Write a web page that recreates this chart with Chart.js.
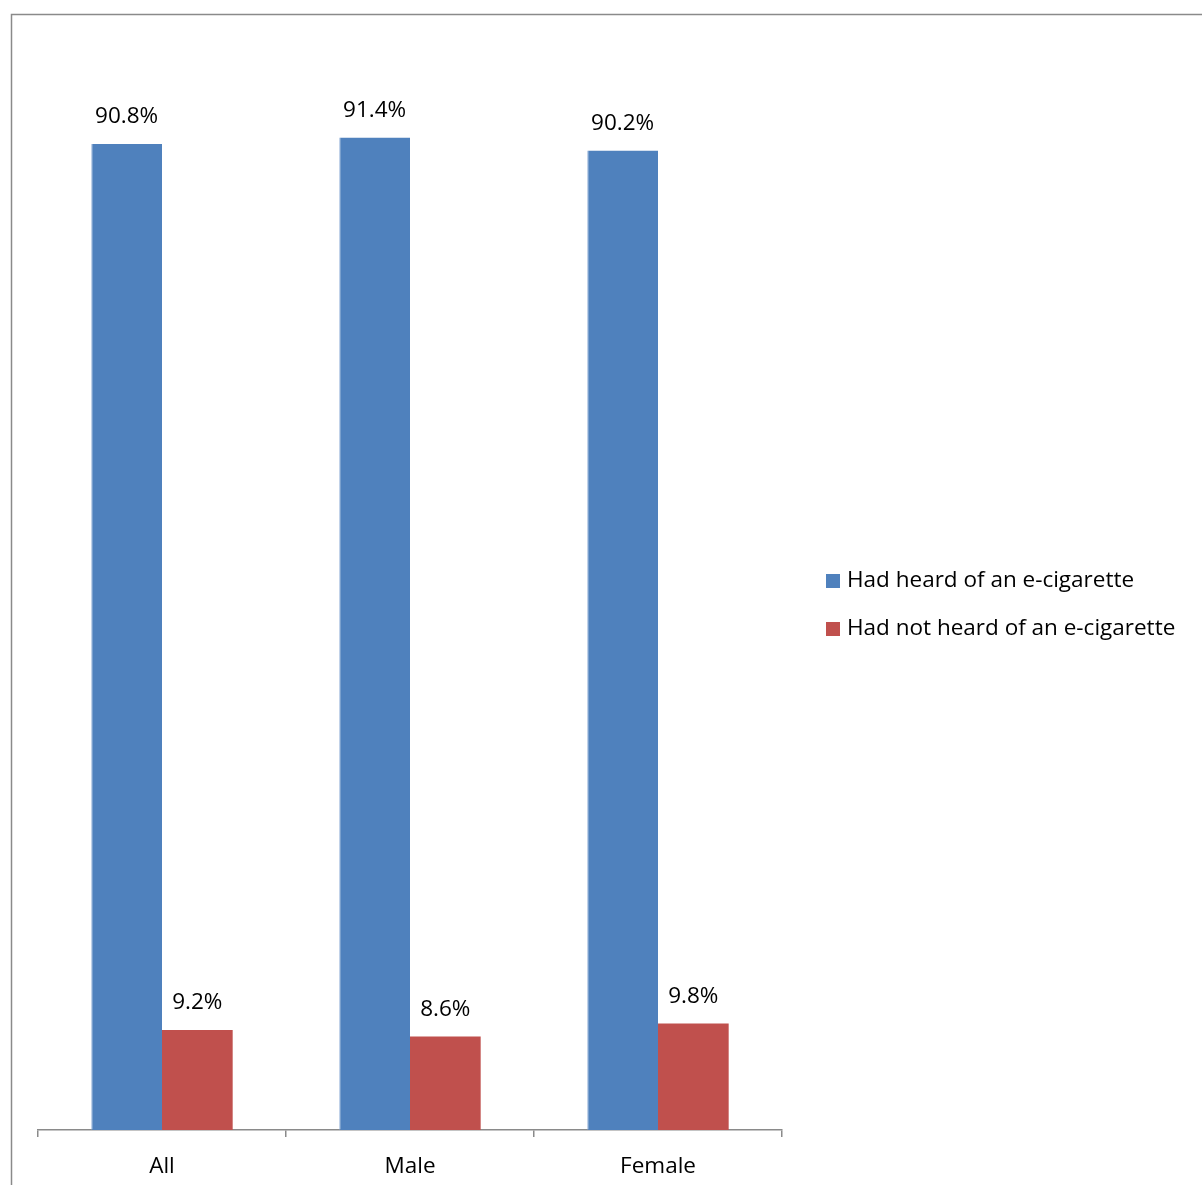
<!DOCTYPE html>
<html>
<head>
<meta charset="utf-8">
<script src="https://cdn.jsdelivr.net/npm/chart.js@4.4.0/dist/chart.umd.min.js"></script>
<style>
  html, body { margin: 0; padding: 0; background: #fff; }
  #wrap { width: 1202px; height: 1185px; }
</style>
</head>
<body>
<div id="wrap"><canvas id="barCanvas"></canvas></div>
<script>
// data
var categories = ["All", "Male", "Female"];
var heardValues = [90.8, 91.4, 90.2];
var notHeardValues = [9.2, 8.6, 9.8];
var seriesNames = ["Had heard of an e-cigarette", "Had not heard of an e-cigarette"];

var fontName = "'Open Sans', 'Noto Sans', sans-serif";

// outer frame + value labels + legend
var drawExtras = {
  id: 'drawExtras',
  afterDraw: function(chart) {
    var ctx = chart.ctx;
    ctx.save();

    // frame
    ctx.strokeStyle = '#8a8a8a';
    ctx.lineWidth = 1.5;
    ctx.strokeRect(11.5, 14.5, 1400, 1400);

    // value labels
    ctx.fillStyle = '#000';
    ctx.font = '22.5px ' + fontName;
    ctx.textAlign = 'center';
    ctx.textBaseline = 'middle';
    chart.data.datasets.forEach(function(ds, i) {
      var meta = chart.getDatasetMeta(i);
      meta.data.forEach(function(bar, j) {
        ctx.fillText(ds.data[j].toFixed(1) + '%', bar.x, bar.y - 27);
      });
    });

    // legend
    ctx.textAlign = 'left';
    ctx.font = '22.5px ' + fontName;
    chart.data.datasets.forEach(function(ds, i) {
      var y = 581 + i * 48;
      ctx.fillStyle = ds.backgroundColor;
      ctx.fillRect(826, y - 7, 14, 14);
      ctx.fillStyle = '#000';
      ctx.fillText(ds.label, 847, y);
    });
    ctx.restore();
  }
};

var ctx = document.getElementById('barCanvas').getContext('2d');
var chart = new Chart(ctx, {
  type: 'bar',
  data: {
    labels: categories,
    datasets: [
      {
        label: seriesNames[0],
        data: heardValues,
        backgroundColor: '#4f81bd',
        borderColor: '#7b9fd0',
        borderWidth: { left: 1, right: 0, top: 0, bottom: 0 }
      },
      {
        label: seriesNames[1],
        data: notHeardValues,
        backgroundColor: '#c0504d',
        borderWidth: 0
      }
    ]
  },
  options: {
    responsive: true,
    maintainAspectRatio: false,
    animation: false,
    layout: {
      padding: { left: 38, right: 420, top: 44, bottom: 0 }
    },
    plugins: {
      legend: { display: false },
      tooltip: { enabled: false }
    },
    datasets: {
      bar: { categoryPercentage: 0.57, barPercentage: 1.0 }
    },
    scales: {
      x: {
        offset: true,
        afterFit: function(scale) { scale.height = 55; },
        grid: {
          display: true,
          offset: true,
          drawOnChartArea: false,
          drawTicks: true,
          tickLength: 7,
          color: '#8a8a8a',
          lineWidth: 1.5
        },
        border: { display: true, color: '#8a8a8a', width: 1.5 },
        ticks: {
          color: '#000',
          padding: 16,
          font: { family: fontName, size: 22.5 }
        }
      },
      y: {
        display: false,
        min: 0,
        max: 100
      }
    }
  },
  plugins: [drawExtras]
});
</script>
</body>
</html>
